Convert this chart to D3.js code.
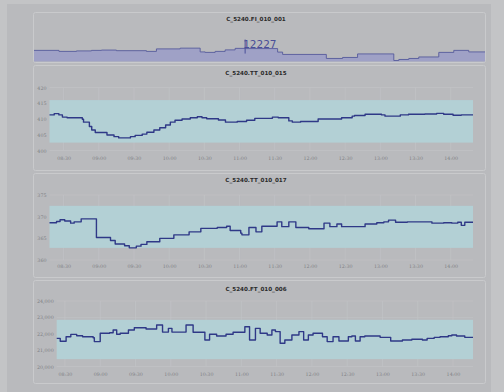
<!DOCTYPE html>
<html>
<head>
<meta charset="utf-8">
<script src="https://cdn.jsdelivr.net/npm/d3@7"></script>
<style>
  html, body { margin: 0; padding: 0; background: #c3c4c6; }
  svg { display: block; }
</style>
</head>
<body>
<svg id="chart" width="504" height="392"></svg>
<script>
// ---- data -------------------------------------------------------------
const domainStart = "08:18";
const domainEnd = "14:19";
const ft006Start = "08:23";
const ft006End = "14:17";

// C_5240.FI_010_001 (flow, overview strip)
const fi001Times  = ["08:18","08:38","08:52","09:04","09:12","09:24","09:48","09:56","10:15","10:31","10:35","10:43","10:51","10:59","11:07","11:33","11:37","12:12","12:25","12:37","13:06","13:10","13:18","13:26","13:42","13:54","14:06"];
const fi001Values = [12139,12090,12114,12139,12154,12125,12090,12212,12247,12065,12041,12090,12163,12237,12227,12056,11943,11747,11796,11968,11649,11698,11747,11820,12041,12139,12065];
const fi001Marker = { time: "11:07", value: 12227 };

// C_5240.TT_010_015
const tt015Times  = ["08:18","08:22","08:26","08:29","08:33","08:46","08:47","08:52","08:54","08:57","09:07","09:13","09:17","09:27","09:31","09:37","09:41","09:47","09:52","09:57","10:01","10:05","10:11","10:18","10:24","10:28","10:32","10:42","10:48","10:58","11:06","11:13","11:28","11:33","11:42","11:45","11:52","12:07","12:27","12:36","12:38","12:47","13:01","13:04","13:17","13:24","13:38","13:48","13:54","14:02","14:09"];
const tt015Values = [411.3,411.7,411.3,410.6,410.4,409.9,409.0,407.6,406.5,405.7,404.9,404.4,404.0,404.4,404.8,405.2,405.8,406.5,407.2,408.1,409.0,409.6,410.0,410.4,410.7,410.4,410.1,409.7,409.0,409.2,409.6,410.2,410.6,410.4,409.4,409.0,409.2,410.0,410.4,410.9,411.1,411.5,411.3,410.9,411.3,411.5,411.6,411.8,411.5,411.2,411.3];
const tt015Band = [402.5, 416];
const tt015Ticks = [400, 405, 410, 415, 420];

// C_5240.TT_010_017
const tt017Times  = ["08:18","08:24","08:27","08:31","08:36","08:39","08:45","08:58","09:10","09:14","09:22","09:26","09:32","09:36","09:41","09:52","10:04","10:17","10:27","10:41","10:49","10:52","11:01","11:02","11:08","11:14","11:19","11:32","11:36","11:42","11:48","11:59","12:12","12:17","12:23","12:27","12:47","12:57","13:03","13:07","13:13","13:23","13:44","13:54","14:01","14:06","14:09","14:12"];
const tt017Values = [368.6,368.9,369.3,369.0,368.5,368.8,369.5,365.2,364.5,363.7,363.3,362.8,363.2,363.6,364.2,365.0,365.8,366.5,367.3,367.5,367.8,366.8,366.2,365.8,367.5,366.5,367.8,368.8,367.7,368.8,367.5,367.2,368.5,367.7,368.3,367.7,368.3,368.6,368.8,369.2,368.7,368.8,368.5,368.6,368.5,368.7,368.0,368.7];
const tt017Band = [362.8, 372.5];
const tt017Ticks = [360, 365, 370, 375];

// C_5240.FT_010_006
const ft006Times  = ["08:23","08:26","08:31","08:35","08:40","08:45","08:54","08:55","09:00","09:08","09:11","09:14","09:17","09:24","09:29","09:39","09:48","09:53","09:58","10:01","10:13","10:19","10:29","10:33","10:39","10:47","10:53","11:03","11:07","11:12","11:16","11:22","11:26","11:29","11:33","11:37","11:43","11:49","11:53","11:57","12:01","12:09","12:13","12:18","12:23","12:27","12:31","12:34","12:37","12:41","12:45","12:58","13:07","13:17","13:25","13:34","13:38","13:44","13:49","13:56","13:59","14:03","14:10"];
const ft006Values = [21720,21540,21820,21960,21880,21820,21760,21520,22030,22060,22230,21970,22030,22230,22370,22290,22530,22100,22330,22100,22530,22090,21620,21970,21860,21970,22090,22430,21620,22330,22030,21920,22230,22130,21420,21620,21920,22130,21620,21920,22030,21820,21520,21820,21560,21560,21820,21860,21560,21820,21860,21780,21560,21620,21660,21620,21720,21780,21820,21880,21920,21860,21780];
const ft006Band = [20450, 22850];
const ft006Ticks = [20000, 21000, 22000, 23000, 24000];

// ---- drawing ----------------------------------------------------------
const parse = d3.timeParse("%H:%M");
const fmt = d3.timeFormat("%H:%M");
const svg = d3.select("#chart");

const C = {
  page: "#c3c4c6",
  frame: "#b9babd",
  panelBorder: "#c9cacc",
  band: "#b3d0d5",
  grid: "#c3c4c7",
  line: "#2f3887",
  title: "#2b2b2b",
  tick: "#7e8084",
  area: "#9fa1c6",
  areaLine: "#565a9c",
  marker: "#4a4e98"
};

svg.append("rect").attr("x", 7).attr("y", 4).attr("width", 484).attr("height", 388).attr("fill", C.frame);

function series(times, values, endTime) {
  const pts = times.map((t, i) => ({ t: parse(t), v: values[i] }));
  pts.push({ t: parse(endTime), v: values[values.length - 1] });
  return pts;
}

function panelFrame(y0, y1, title, titleY) {
  svg.append("rect")
    .attr("x", 33.5).attr("y", y0 + 0.5)
    .attr("width", 452).attr("height", y1 - y0)
    .attr("rx", 2)
    .attr("fill", "none").attr("stroke", C.panelBorder).attr("stroke-width", 1);
  svg.append("text")
    .attr("x", 256).attr("y", titleY)
    .attr("text-anchor", "middle")
    .attr("font-family", "DejaVu Sans, sans-serif")
    .attr("font-size", 5.6).attr("font-weight", "bold")
    .attr("fill", C.title)
    .text(title);
}

function trendPanel(opt) {
  const x = d3.scaleTime().domain([parse(opt.start), parse(opt.end)]).range([opt.left, opt.right]);
  const y = d3.scaleLinear().domain([opt.ticks[0], opt.ticks[opt.ticks.length - 1]]).range([opt.bottom, opt.top]);

  panelFrame(opt.frameTop, opt.frameBottom, opt.title, opt.titleY);

  const g = svg.append("g");

  // faint grid
  g.append("g").selectAll("line").data(opt.ticks).join("line")
    .attr("x1", opt.left).attr("x2", opt.right)
    .attr("y1", d => y(d)).attr("y2", d => y(d))
    .attr("stroke", C.grid).attr("stroke-width", 0.6);
  const xt = x.ticks(d3.timeMinute.every(30));
  g.append("g").selectAll("line").data(xt).join("line")
    .attr("x1", d => x(d)).attr("x2", d => x(d))
    .attr("y1", opt.top).attr("y2", opt.bottom)
    .attr("stroke", C.grid).attr("stroke-width", 0.6);

  // limit band
  g.append("rect")
    .attr("x", opt.left).attr("width", opt.right - opt.left)
    .attr("y", y(opt.band[1])).attr("height", y(opt.band[0]) - y(opt.band[1]))
    .attr("fill", C.band);

  // axes (labels only)
  const yAxis = d3.axisLeft(y).tickValues(opt.ticks).tickSize(0).tickPadding(3);
  const ya = g.append("g").attr("transform", `translate(${opt.left},0)`).call(yAxis);
  const xAxis = d3.axisBottom(x).ticks(d3.timeMinute.every(30)).tickFormat(fmt).tickSize(0).tickPadding(opt.xPad);
  const xa = g.append("g").attr("transform", `translate(0,${opt.bottom})`).call(xAxis);
  [ya, xa].forEach(a => {
    a.select(".domain").remove();
    a.selectAll("text")
      .attr("font-family", "DejaVu Serif, serif")
      .attr("font-size", 4.8)
      .attr("fill", C.tick);
  });

  const data = series(opt.times, opt.values, opt.end);
  const line = d3.line().curve(d3.curveStepAfter).x(d => x(d.t)).y(d => y(d.v));
  g.append("path").datum(data)
    .attr("d", line)
    .attr("fill", "none")
    .attr("stroke", C.line)
    .attr("stroke-width", 1.4)
    .attr("stroke-linejoin", "round");
}

// overview strip: FI_010_001
(function () {
  panelFrame(12, 62, "C_5240.FI_010_001", 21);
  const x = d3.scaleTime().domain([parse(domainStart), parse(domainEnd)]).range([34, 485]);
  const y = d3.scaleLinear().domain([11600, 14000]).range([61.5, 12]);
  const data = series(fi001Times, fi001Values, domainEnd);
  const area = d3.area().curve(d3.curveStepAfter).x(d => x(d.t)).y0(61.5).y1(d => y(d.v));
  const line = d3.line().curve(d3.curveStepAfter).x(d => x(d.t)).y(d => y(d.v));
  svg.append("path").datum(data).attr("d", area).attr("fill", C.area);
  svg.append("path").datum(data).attr("d", line)
    .attr("fill", "none").attr("stroke", C.areaLine).attr("stroke-width", 0.9);

  const mx = x(parse(fi001Marker.time));
  const my = y(fi001Marker.value);
  svg.append("line")
    .attr("x1", mx).attr("x2", mx).attr("y1", my - 9).attr("y2", my + 5)
    .attr("stroke", C.marker).attr("stroke-width", 1);
  svg.append("text")
    .attr("x", mx - 2).attr("y", my - 0.5)
    .attr("font-family", "DejaVu Sans, sans-serif")
    .attr("font-size", 10.5)
    .attr("fill", C.marker)
    .text(d3.format("d")(fi001Marker.value));
})();

trendPanel({
  title: "C_5240.TT_010_015", frameTop: 65, frameBottom: 170, titleY: 75,
  start: domainStart, end: domainEnd, left: 49.5, right: 473,
  top: 87.5, bottom: 150.5, ticks: tt015Ticks, band: tt015Band, xPad: 6,
  times: tt015Times, values: tt015Values
});

trendPanel({
  title: "C_5240.TT_010_017", frameTop: 173, frameBottom: 277, titleY: 182,
  start: domainStart, end: domainEnd, left: 49.5, right: 473,
  top: 195, bottom: 260, ticks: tt017Ticks, band: tt017Band, xPad: 5,
  times: tt017Times, values: tt017Values
});

trendPanel({
  title: "C_5240.FT_010_006", frameTop: 280, frameBottom: 383, titleY: 291,
  start: ft006Start, end: ft006End, left: 56.7, right: 473,
  top: 301, bottom: 366.5, ticks: ft006Ticks, band: ft006Band, xPad: 6,
  times: ft006Times, values: ft006Values
});
</script>
</body>
</html>
